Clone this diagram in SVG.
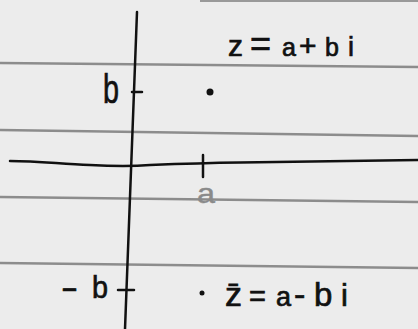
<svg xmlns="http://www.w3.org/2000/svg" width="418" height="329" viewBox="0 0 418 329">
<style>
.paper{stroke:#8c8c8c;stroke-width:2.5;fill:none}
.ink{stroke:#111;stroke-width:2.5;fill:none;stroke-linecap:round}
.t{font-family:"Liberation Sans",Arial,sans-serif;fill:#111;stroke:#111;stroke-width:0.7}
.gray{fill:#8a8a8a;stroke:#8a8a8a;stroke-width:0.4}
</style>
<rect width="418" height="329" fill="#ececec"/>
<g id="paper-lines">
<line class="paper" x1="0" y1="63" x2="418" y2="67"/>
<line class="paper" x1="0" y1="130" x2="418" y2="136"/>
<line class="paper" x1="0" y1="197" x2="418" y2="202"/>
<line class="paper" x1="0" y1="263" x2="418" y2="268"/>
<line x1="200" y1="1" x2="418" y2="1" stroke="#999" stroke-width="2"/>
</g>
<g id="connectors">
<path id="real-axis" class="ink" d="M10,161 C40,161 60,164 90,165 C110,166 130,166.5 150,165 C175,164 200,163 240,162.5 C300,162 360,161 418,160"/>
<line id="imag-axis" class="ink" x1="137" y1="12" x2="125" y2="329"/>
<line id="tick-a" class="ink" x1="203" y1="155" x2="203" y2="177" stroke-width="3"/>
<line id="tick-b" class="ink" x1="132" y1="92" x2="142" y2="92"/>
<line id="tick-negb" class="ink" x1="118" y1="290" x2="134" y2="290" stroke="#555"/>
</g>
<g id="label-a"><text class="t gray" x="197" y="203" font-size="28" textLength="18" lengthAdjust="spacingAndGlyphs">a</text></g>
<g id="label-b"><text class="t" x="103" y="103" font-size="40" textLength="16" lengthAdjust="spacingAndGlyphs">b</text></g>
<g id="label-negb"><text class="t" x="60" y="298" font-size="32"><tspan x="61" textLength="17" lengthAdjust="spacingAndGlyphs">-</tspan><tspan x="92" textLength="16" lengthAdjust="spacingAndGlyphs">b</tspan></text></g>
<g id="point-z">
<circle cx="210" cy="92" r="3.5" fill="#111"/>
<text class="t" y="56"><tspan x="228" font-size="30">z</tspan><tspan x="250" font-size="36">=</tspan><tspan x="282" font-size="25">a</tspan><tspan x="299" font-size="30">+</tspan><tspan x="325" font-size="25">b</tspan><tspan x="348" font-size="27">i</tspan></text>
</g>
<g id="point-zbar">
<circle cx="202" cy="293" r="2.5" fill="#111"/>
<text class="t" y="306"><tspan x="225" font-size="34">z̄</tspan><tspan x="249" font-size="29">=</tspan><tspan x="276" font-size="27">a</tspan><tspan x="294" font-size="34">-</tspan><tspan x="314" font-size="33">b</tspan><tspan x="341" font-size="31">i</tspan></text>
</g>
</svg>
